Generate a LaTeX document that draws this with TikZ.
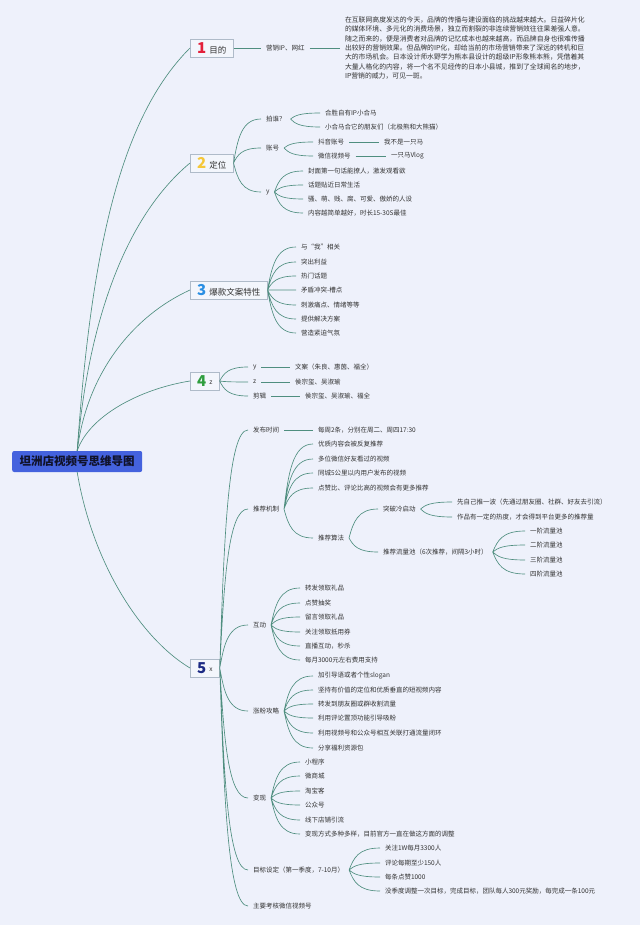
\documentclass[tikz,border=0pt]{standalone}
\usepackage{fontspec}
\setmainfont{Noto Sans CJK SC}
\usepackage{tikz}
\usetikzlibrary{calc}

\definecolor{bgcol}{HTML}{EEF1FB}
\definecolor{linkcol}{HTML}{4F8E7F}
\definecolor{boxcol}{HTML}{F3F6FC}
\definecolor{boxline}{HTML}{AFBBC9}
\definecolor{rootcol}{HTML}{4462DE}
\definecolor{roottxt}{HTML}{10122A}
\definecolor{txtcol}{HTML}{333333}
\definecolor{numred}{HTML}{E3203A}
\definecolor{numyellow}{HTML}{F5C73A}
\definecolor{numblue}{HTML}{2A8FE3}
\definecolor{numgreen}{HTML}{2E9E3E}
\definecolor{numnavy}{HTML}{1C2A84}

\newcommand{\topicnum}[2]{{\color{#1}\fontsize{15}{15}\selectfont\bfseries #2}\hspace{3pt}}
\newcommand{\smalltag}[1]{\raisebox{2pt}{\fontsize{6.5}{7}\selectfont #1}}

\begin{document}
\begin{tikzpicture}[x=1pt,y=-1pt]
	\tikzstyle{mainbox} = [fill=rootcol, rounded corners=2pt, anchor=west, minimum width=130pt, minimum height=21pt, inner sep=0pt, font=\fontsize{11.5}{12}\selectfont\bfseries, text=roottxt]
	\tikzstyle{topic} = [draw=boxline, fill=boxcol, anchor=west, inner xsep=7pt, inner ysep=3pt, text height=11.5pt, text depth=0.5pt, font=\fontsize{8.5}{9}\selectfont, text=txtcol]
	\tikzstyle{leaf} = [anchor=west, inner sep=1pt, outer sep=4pt, font=\fontsize{6.5}{7}\selectfont, text=txtcol]
	\tikzstyle{para} = [leaf, align=left, font=\fontsize{6.85}{9.4}\selectfont]
	\tikzstyle{link} = [draw=linkcol, line width=0.65pt]
	\tikzstyle{fanout} = [to path={let \p1=(\tikztostart), \p2=(\tikztotarget) in .. controls ({\x1+0.15*(\x2-\x1)},{\y1+0.55*(\y2-\y1)}) and ({\x1+0.3*(\x2-\x1)},\y2) .. (\tikztotarget) \tikztonodes}]

	\fill [bgcol, use as bounding box] (0,0) rectangle (640,925);

	\node [mainbox] (title) at (12,461.5) {坦洲店视频号思维导图};

	\node [topic] (goal) at (190,48) {\topicnum{numred}{1}目的};
	\node [topic] (posit) at (190,163) {\topicnum{numyellow}{2}定位};
	\node [topic] (copy) at (190,290) {\topicnum{numblue}{3}爆款文案特性};
	\node [topic] (staff) at (190,381) {\topicnum{numgreen}{4}\smalltag{z}};
	\node [topic] (ops) at (190,668) {\topicnum{numnavy}{5}\smalltag{x}};

	\node [leaf] (goal-ip) at (261,48) {营销IP、网红};
	\node [para] (goal-text) at (340,48) {在互联网高度发达的今天，品牌的传播与建设面临的挑战越来越大。日益碎片化\\的媒体环境、多元化的消费场景，独立而割裂的非连续营销效往往果差强人意。\\随之而来的，便是消费者对品牌的记忆成本也越来越高，而品牌自身也很难传播\\出较好的营销效果。但品牌的IP化，却给当前的市场营销带来了深远的转机和巨\\大的市场机会。日本设计师水野学为熊本县设计的超级IP形象熊本熊，凭借着其\\大量人格化的内容，将一个名不见经传的日本小县城，推到了全球闻名的地步，\\IP营销的威力，可见一斑。};

	\node [leaf] (posit-who) at (261,119) {拍谁？};
	\node [leaf] (who1) at (320,113) {合胜自有IP小合马};
	\node [leaf] (who2) at (320,127) {小合马合它的朋友们（北极熊和大熊猫）};
	\node [leaf] (posit-acct) at (261,148) {账号};
	\node [leaf] (acct-dy) at (313,142) {抖音账号};
	\node [leaf] (acct-dy-name) at (379,142) {我不是一只马};
	\node [leaf] (acct-wx) at (313,156) {微信视频号};
	\node [leaf] (acct-wx-name) at (386,156) {一只马Vlog};
	\node [leaf] (posit-y) at (261,192) {y};
	\node [leaf] (y1) at (303,171) {封面第一句话能撩人，激发观看欲};
	\node [leaf] (y2) at (303,185) {话题贴近日常生活};
	\node [leaf] (y3) at (303,199) {骚、萌、贱、腐、可爱、傲娇的人设};
	\node [leaf] (y4) at (303,213) {内容越简单越好，时长15-30S最佳};

	\node [leaf] (copy1) at (296,247) {与“我”相关};
	\node [leaf] (copy2) at (296,262) {突出利益};
	\node [leaf] (copy3) at (296,276) {热门话题};
	\node [leaf] (copy4) at (296,290) {矛盾冲突-槽点};
	\node [leaf] (copy5) at (296,305) {刺激痛点、情绪等等};
	\node [leaf] (copy6) at (296,319) {提供解决方案};
	\node [leaf] (copy7) at (296,333) {营造紧迫气氛};

	\node [leaf] (staff-y) at (248,367) {y};
	\node [leaf] (staff-y-txt) at (290,367) {文案（朱良、惠茵、福全）};
	\node [leaf] (staff-z) at (248,382) {z};
	\node [leaf] (staff-z-txt) at (290,382) {侯宗玺、吴淑瑜};
	\node [leaf] (staff-cut) at (248,396) {剪辑};
	\node [leaf] (staff-cut-txt) at (300,396) {侯宗玺、吴淑瑜、福全};

	\node [leaf] (ops-time) at (248,430) {发布时间};
	\node [leaf] (ops-time-txt) at (313,430) {每周2条，分别在周二、周四17:30};
	\node [leaf] (ops-rec) at (248,509) {推荐机制};
	\node [leaf] (rec1) at (313,444) {优质内容会被反复推荐};
	\node [leaf] (rec2) at (313,459) {多位微信好友看过的视频};
	\node [leaf] (rec3) at (313,473) {同城5公里以内用户发布的视频};
	\node [leaf] (rec4) at (313,488) {点赞比、评论比高的视频会有更多推荐};
	\node [leaf] (rec-algo) at (313,538) {推荐算法};
	\node [leaf] (algo-cold) at (378,509) {突破冷启动};
	\node [leaf] (cold1) at (452,502) {先自己推一波（先通过朋友圈、社群、好友去引流）};
	\node [leaf] (cold2) at (452,517) {作品有一定的热度，才会得到平台更多的推荐量};
	\node [leaf] (algo-pool) at (378,552) {推荐流量池（6次推荐，间隔3小时）};
	\node [leaf] (pool1) at (525,531) {一阶流量池};
	\node [leaf] (pool2) at (525,545) {二阶流量池};
	\node [leaf] (pool3) at (525,560) {三阶流量池};
	\node [leaf] (pool4) at (525,574) {四阶流量池};

	\node [leaf] (ops-int) at (248,625) {互动};
	\node [leaf] (int1) at (300,588) {转发领取礼品};
	\node [leaf] (int2) at (300,603) {点赞抽奖};
	\node [leaf] (int3) at (300,617) {留言领取礼品};
	\node [leaf] (int4) at (300,632) {关注领取抵用券};
	\node [leaf] (int5) at (300,646) {直播互动，秒杀};
	\node [leaf] (int6) at (300,660) {每月3000元左右费用支持};

	\node [leaf] (ops-fans) at (248,711) {涨粉攻略};
	\node [leaf] (fans1) at (313,676) {加引导语或者个性slogan};
	\node [leaf] (fans2) at (313,690) {坚持有价值的定位和优质垂直的短视频内容};
	\node [leaf] (fans3) at (313,704) {转发到朋友圈或群收割流量};
	\node [leaf] (fans4) at (313,718) {利用评论置顶功能引导吸粉};
	\node [leaf] (fans5) at (313,733) {利用视频号和公众号相互关联打通流量闭环};
	\node [leaf] (fans6) at (313,748) {分享福利资源包};

	\node [leaf] (ops-cash) at (248,798) {变现};
	\node [leaf] (cash1) at (300,762) {小程序};
	\node [leaf] (cash2) at (300,776) {微商城};
	\node [leaf] (cash3) at (300,791) {淘宝客};
	\node [leaf] (cash4) at (300,805) {公众号};
	\node [leaf] (cash5) at (300,820) {线下店铺引流};
	\node [leaf] (cash6) at (300,834) {变现方式多种多样，目前官方一直在做这方面的调整};

	\node [leaf] (ops-goal) at (248,870) {目标设定（第一季度，7-10月）};
	\node [leaf] (og1) at (380,848) {关注1W每月3300人};
	\node [leaf] (og2) at (380,863) {评论每期至少150人};
	\node [leaf] (og3) at (380,877) {每条点赞1000};
	\node [leaf] (og4) at (380,891) {没季度调整一次目标，完成目标，团队每人300元奖励，每完成一条100元};
	\node [leaf] (ops-check) at (248,906) {主要考核微信视频号};

	\draw [link] (title.north) .. controls +(14,-200) and +(-70,70) .. (goal.west);
	\draw [link] (title.north) .. controls +(12,-140) and +(-60,50) .. (posit.west);
	\draw [link] (title.north) .. controls +(10,-80) and +(-55,25) .. (copy.west);
	\draw [link] (title.north) .. controls +(12,-35) and +(-50,8) .. (staff.west);
	\draw [link] (title.south) .. controls +(15,90) and +(-50,-30) .. (ops.west);

	\draw [link] (goal.east) -- (goal-ip.west);
	\draw [link] (goal-ip.east) -- (goal-text.west);

	\draw [link] (posit.east) to[fanout] (posit-who.west) (posit.east) to[fanout] (posit-acct.west) (posit.east) to[fanout] (posit-y.west);
	\draw [link] (posit-who.east) to[fanout] (who1.west) (posit-who.east) to[fanout] (who2.west);
	\draw [link] (posit-acct.east) to[fanout] (acct-dy.west) (posit-acct.east) to[fanout] (acct-wx.west);
	\draw [link] (acct-dy.east) -- (acct-dy-name.west);
	\draw [link] (acct-wx.east) -- (acct-wx-name.west);
	\draw [link] (posit-y.east) to[fanout] (y1.west) (posit-y.east) to[fanout] (y2.west) (posit-y.east) to[fanout] (y3.west) (posit-y.east) to[fanout] (y4.west);

	\draw [link] (copy.east) to[fanout] (copy1.west) (copy.east) to[fanout] (copy2.west) (copy.east) to[fanout] (copy3.west) (copy.east) to[fanout] (copy4.west) (copy.east) to[fanout] (copy5.west) (copy.east) to[fanout] (copy6.west) (copy.east) to[fanout] (copy7.west);

	\draw [link] (staff.east) to[fanout] (staff-y.west) (staff.east) to[fanout] (staff-z.west) (staff.east) to[fanout] (staff-cut.west);
	\draw [link] (staff-y.east) -- (staff-y-txt.west);
	\draw [link] (staff-z.east) -- (staff-z-txt.west);
	\draw [link] (staff-cut.east) -- (staff-cut-txt.west);

	\draw [link] (ops.east) to[fanout] (ops-time.west) (ops.east) to[fanout] (ops-rec.west) (ops.east) to[fanout] (ops-int.west) (ops.east) to[fanout] (ops-fans.west) (ops.east) to[fanout] (ops-cash.west) (ops.east) to[fanout] (ops-goal.west) (ops.east) to[fanout] (ops-check.west);
	\draw [link] (ops-time.east) -- (ops-time-txt.west);
	\draw [link] (ops-rec.east) to[fanout] (rec1.west) (ops-rec.east) to[fanout] (rec2.west) (ops-rec.east) to[fanout] (rec3.west) (ops-rec.east) to[fanout] (rec4.west) (ops-rec.east) to[fanout] (rec-algo.west);
	\draw [link] (rec-algo.east) to[fanout] (algo-cold.west) (rec-algo.east) to[fanout] (algo-pool.west);
	\draw [link] (algo-cold.east) to[fanout] (cold1.west) (algo-cold.east) to[fanout] (cold2.west);
	\draw [link] (algo-pool.east) to[fanout] (pool1.west) (algo-pool.east) to[fanout] (pool2.west) (algo-pool.east) to[fanout] (pool3.west) (algo-pool.east) to[fanout] (pool4.west);
	\draw [link] (ops-int.east) to[fanout] (int1.west) (ops-int.east) to[fanout] (int2.west) (ops-int.east) to[fanout] (int3.west) (ops-int.east) to[fanout] (int4.west) (ops-int.east) to[fanout] (int5.west) (ops-int.east) to[fanout] (int6.west);
	\draw [link] (ops-fans.east) to[fanout] (fans1.west) (ops-fans.east) to[fanout] (fans2.west) (ops-fans.east) to[fanout] (fans3.west) (ops-fans.east) to[fanout] (fans4.west) (ops-fans.east) to[fanout] (fans5.west) (ops-fans.east) to[fanout] (fans6.west);
	\draw [link] (ops-cash.east) to[fanout] (cash1.west) (ops-cash.east) to[fanout] (cash2.west) (ops-cash.east) to[fanout] (cash3.west) (ops-cash.east) to[fanout] (cash4.west) (ops-cash.east) to[fanout] (cash5.west) (ops-cash.east) to[fanout] (cash6.west);
	\draw [link] (ops-goal.east) to[fanout] (og1.west) (ops-goal.east) to[fanout] (og2.west) (ops-goal.east) to[fanout] (og3.west) (ops-goal.east) to[fanout] (og4.west);
\end{tikzpicture}
\end{document}
